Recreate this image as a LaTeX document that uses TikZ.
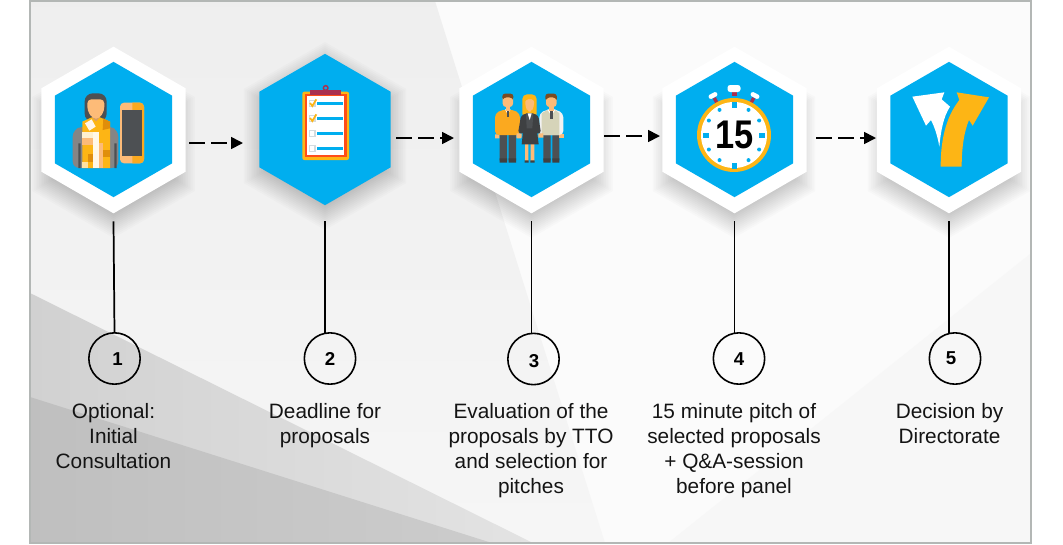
\documentclass[tikz,border=0pt]{standalone}
\usepackage{fontspec}
\setmainfont{Liberation Sans}
\usetikzlibrary{shapes.geometric,arrows.meta}
\definecolor{hexblue}{HTML}{00AEEF}
\definecolor{gold}{HTML}{FDB515}
\definecolor{amber}{HTML}{FBA91F}
\definecolor{deepamber}{HTML}{E08E0B}
\definecolor{peach}{HTML}{FDBB78}
\definecolor{slate}{HTML}{4D5053}
\definecolor{wine}{HTML}{A9304F}
\definecolor{brownh}{HTML}{7B4B22}
\definecolor{framegrey}{HTML}{B3B7B5}
\tikzset{
  hexbase/.style={regular polygon,regular polygon sides=6,shape border rotate=30,inner sep=0pt,outer sep=0pt},
  hexwhite/.style={hexbase,fill=white,minimum size=125pt},
  hexinner/.style={hexbase,fill=hexblue,minimum size=101.5pt},
  hexlarge/.style={hexbase,fill=hexblue,minimum size=113.5pt},
  numring/.style={circle,draw=black,line width=1.2pt,minimum size=38.5pt,inner sep=0pt,outer sep=0pt},
  numtext/.style={font=\bfseries\fontsize{14}{14}\selectfont,inner sep=0pt},
  caption/.style={align=center,font=\fontsize{15.6}{18.75}\selectfont,text=black!92,inner sep=0pt,anchor=north},
  stem/.style={line width=1.3pt,black},
  dasharrow/.style={line width=1.3pt,black,dash pattern=on 12pt off 4.5pt,-{Triangle[width=9pt,length=9pt]}},
  iconscope/.style={x=.25pt,y=-.25pt}
}
\newcommand{\softshadow}[2]{%
  \foreach \rr in {68,70,...,94}{%
    \fill[black,opacity=.017] (#1,#2)++(90:\rr)--++(-30:\rr)--++(-90:\rr)--++(-150:\rr)--++(150:\rr)--++(90:\rr)--cycle;
  }}
\begin{document}
\begin{tikzpicture}[x=.75pt,y=-.75pt]
\useasboundingbox (0,0) rectangle (1063,544);
% background
\begin{scope}
\clip (30,1) rectangle (1031,543);
\fill[white!98.5!black] (30,1) rectangle (1031,543);
\fill[white!97!black] (668,543)--(1035,250)--(1035,543)--cycle;
\shade[top color=black!6.5,bottom color=black!3.5] (30,1)--(435,1)--(605,543)--(30,543)--cycle;
\shade[left color=black!18,right color=black!11] (30,293)--(533,543)--(30,543)--cycle;
\shade[left color=black!25,right color=black!20] (30,397)--(492,543)--(30,543)--cycle;
\softshadow{113.5}{144}
\softshadow{325}{136}
\softshadow{531.5}{144}
\softshadow{734}{144}
\softshadow{949}{144}
\end{scope}
\draw[framegrey,line width=1.6pt] (30,1) rectangle (1031,543);
% hexagons
\node[hexwhite] (w1) at (113.5,130) {};
\node[hexinner] (h1) at (113.5,129.5) {};
\node[hexlarge] (h2) at (325,129.5) {};
\node[hexwhite] (w3) at (531.5,130) {};
\node[hexinner] (h3) at (531.5,129.5) {};
\node[hexwhite] (w4) at (734.5,130) {};
\node[hexinner] (h4) at (734.5,129.5) {};
\node[hexwhite] (w5) at (949,130) {};
\node[hexinner] (h5) at (949,129.5) {};
% icon 1: person with phone
\begin{scope}[shift={(50,80)},iconscope]
\fill[slate,rounded corners=6pt] (104,125)--(104,40)--(170,40)--(170,125)--cycle;
\fill[black!48,rounded corners=5pt] (68,264)--(68,150)--(100,138)--(175,138)--(205,150)--(205,264)--cycle;
\fill[slate] (85,190) rectangle (92,264) (193,190) rectangle (200,264);
\fill[peach!85!black] (125,100) rectangle (150,130);
\fill[gold] (97,264)--(97,125)--(125,112)--(138,125)--(150,112)--(180,125)--(180,264)--cycle;
\fill[deepamber] (160,115)--(180,125)--(180,145)--(158,150)--cycle;
\fill[white!85!peach] (105,130)--(125,118)--(137,140)--(118,152)--cycle;
\fill[white!90!gold] (128,155) rectangle (146,264);
\fill[white!80!gold] (97,155) rectangle (128,175);
\fill[peach] (97,175) rectangle (128,195);
\fill[deepamber] (113,222) rectangle (128,245);
\fill[peach] (146,190) rectangle (160,264);
\fill[deepamber] (160,210) rectangle (180,232);
\fill[white!60!gold] (97,245) rectangle (113,264);
\fill[peach,rounded corners=3pt] (112,58)--(163,58)--(163,92)--(148,116)--(128,116)--(112,92)--cycle;
\fill[peach,rounded corners=3pt] (210,68) rectangle (282,250);
\begin{scope}
\clip (247,60) rectangle (290,255);
\fill[amber,rounded corners=3pt] (210,68) rectangle (282,250);
\end{scope}
\fill[slate] (216,90) rectangle (277,228);
\end{scope}
% icon 2: clipboard
\begin{scope}[shift={(290,80)},iconscope]
\fill[gold,rounded corners=1.5pt] (37,35) rectangle (177,240);
\fill[red!55!orange!90!white] (44,42) rectangle (170,232);
\fill[white] (50,47) rectangle (163,226);
\fill[wine] (60,31) rectangle (152,45);
\draw[wine,line width=1.1pt] (107,24) circle[radius=7];
\foreach \yy in {70,115,160,205}{
  \fill[hexblue] (82,\yy-3.5) rectangle (160,\yy+3.5);
  \draw[cyan!30!black!20!white,line width=.9pt] (59,\yy-8) rectangle (75,\yy+10);
}
\foreach \yy in {70,115}{
  \draw[gold,line width=1.3pt] (60,\yy-1)--(67,\yy+8)--(79,\yy-12);
}
\end{scope}
% icon 3: three people
\begin{scope}[shift={(490,85)},iconscope]
% left man
\fill[slate] (29,145) rectangle (51,226) (56,145) rectangle (78,226);
\fill[black!75] (29,220) rectangle (51,233) (56,220) rectangle (78,233);
\fill[peach] (15,148) rectangle (28,160) (80,148) rectangle (93,160);
\fill[amber,rounded corners=3pt] (15,150)--(15,85)--(38,74)--(68,74)--(90,85)--(90,150)--cycle;
\fill[white] (45,73)--(62,73)--(53,88)--cycle;
\fill[slate] (50,76) rectangle (57,97);
\fill[peach] (47,60) rectangle (60,78);
\fill[peach,rounded corners=2.5pt] (38,30) rectangle (69,66);
\fill[brownh,rounded corners=2pt] (37,45)--(37,26)--(70,26)--(70,45)--(65,37)--(42,37)--cycle;
% right man
\fill[slate] (160,145) rectangle (182,226) (187,145) rectangle (208,226);
\fill[black!75] (160,220) rectangle (182,233) (187,220) rectangle (208,233);
\fill[peach] (208,148) rectangle (221,160);
\fill[black!5,rounded corners=3pt] (148,150)--(148,85)--(170,74)--(200,74)--(220,85)--(220,150)--cycle;
\fill[black!22!yellow!20!white!85!black] (155,150)--(155,85)--(170,76)--(197,76)--(208,85)--(208,150)--cycle;
\fill[white] (172,73)--(197,73)--(184,92)--cycle;
\fill[slate] (181,76) rectangle (188,101);
\fill[peach] (177,60) rectangle (191,78);
\fill[peach,rounded corners=2.5pt] (168,30) rectangle (200,66);
\fill[brownh,rounded corners=2pt] (166,48)--(166,26)--(200,26)--(201,48)--(196,37)--(172,37)--cycle;
% woman
\fill[peach] (105,175) rectangle (115,228) (122,175) rectangle (133,228);
\fill[black!75] (104,226) rectangle (116,233) (121,226) rectangle (134,233);
\fill[gold,rounded corners=3.5pt] (97,100)--(97,28)--(140,28)--(140,100)--cycle;
\fill[peach] (80,145) rectangle (95,158) (145,145) rectangle (160,158);
\fill[slate!80!black,rounded corners=2pt] (84,145)--(93,92)--(108,85)--(130,85)--(145,92)--(153,145)--cycle;
\fill[slate!80!black] (100,130)--(140,130)--(146,178)--(95,178)--cycle;
\fill[slate] (108,85)--(130,85)--(127,130)--(110,130)--cycle;
\fill[white] (113,85)--(125,85)--(119,105)--cycle;
\fill[peach,rounded corners=2.5pt] (106,40)--(132,40)--(132,66)--(124,80)--(114,80)--(106,66)--cycle;
\fill[gold,rounded corners=1.5pt] (102,52)--(106,32)--(120,28)--(134,32)--(136,52)--(130,42)--(110,42)--cycle;
\end{scope}
% icon 4: stopwatch
\coordinate (clk) at (734,135);
\fill[wine] (731.5,91) rectangle (736.7,96);
\fill[white,rounded corners=2pt] (727.5,85) rectangle (740.5,92);
\begin{scope}[shift={(734,135)}]
\foreach \aa in {-28,28}{
  \begin{scope}[rotate=\aa]
  \fill[wine] (-1.7,-42) rectangle (1.7,-35);
  \fill[white,rounded corners=1pt] (-4.5,-47) rectangle (4.5,-42.5);
  \end{scope}
}
\end{scope}
\fill[gold] (clk) circle[radius=37];
\fill[white] (clk) circle[radius=33];
\foreach \aa in {30,60,120,150,210,240,300,330}{
  \fill[hexblue] (clk) ++(\aa:29) circle[radius=2];
}
\fill[hexblue] (731.5,101.5) rectangle (736.5,107.5);
\fill[hexblue] (731.5,162.5) rectangle (736.5,168.5);
\fill[hexblue] (703,132.5) rectangle (709,137.5);
\fill[hexblue] (759,132.5) rectangle (765,137.5);
\node[font=\bfseries\fontsize{30}{30}\selectfont,inner sep=0pt,xscale=.86] (fifteen) at (734.5,134.5) {15};
% icon 5: fork
\begin{scope}[shift={(900,85)},iconscope]
\fill[white] (37,35)--(133,22)--(125,43)--(150,65) .. controls (130,95) and (122,140) .. (118,185) .. controls (112,150) and (103,125) .. (93,105)--(78,122)--cycle;
\fill[gold] (122,245) .. controls (122,170) and (135,100) .. (178,45)--(170,22)--(267,37)--(218,122)--(207,105) .. controls (192,140) and (185,190) .. (185,245)--cycle;
\end{scope}
% dashed arrows
\coordinate (a1s) at (189,143); \coordinate (a1e) at (243,143);
\coordinate (a2s) at (396,138); \coordinate (a2e) at (454,138);
\coordinate (a3s) at (604,136); \coordinate (a3e) at (660,136);
\coordinate (a4s) at (816,138); \coordinate (a4e) at (876,138);
\draw[dasharrow] (a1s)--(a1e);
\draw[dasharrow] (a2s)--(a2e);
\draw[dasharrow] (a3s)--(a3e);
\draw[dasharrow] (a4s)--(a4e);
% numbered circles
\node[numring] (c1) at (114.5,358.5) {};
\node[numring] (c2) at (330,358.5) {};
\node[numring] (c3) at (533.5,359) {};
\node[numring] (c4) at (739,358.5) {};
\node[numring] (c5) at (955,358.5) {};
\node[numtext] (n1) at (117.5,359) {1};
\node[numtext] (n2) at (330,359) {2};
\node[numtext] (n3) at (534,361) {3};
\node[numtext] (n4) at (739,359) {4};
\node[numtext] (n5) at (951,358) {5};
% stems
\draw[stem] ([yshift=-6pt]w1.south)--(c1.north);
\draw[stem] ([yshift=-12pt]h2.south)--(h2.south |- c2.north);
\draw[stem] ([yshift=-6pt]w3.south)--(w3.south |- c3.north);
\draw[stem] ([yshift=-6pt]w4.south)--(w4.south |- c4.north);
\draw[stem] ([yshift=-6pt]w5.south)--(w5.south |- c5.north);
% captions
\node[caption] (t1) at (113.5,403) {Optional:\\Initial\\Consultation};
\node[caption] (t2) at (325,403) {Deadline for\\proposals};
\node[caption] (t3) at (531,403) {Evaluation of the\\proposals by TTO\\and selection for\\pitches};
\node[caption] (t4) at (734,403) {15 minute pitch of\\selected proposals\\+ Q\&A-session\\before panel};
\node[caption] (t5) at (949.5,403) {Decision by\\Directorate};
\end{tikzpicture}
\end{document}
